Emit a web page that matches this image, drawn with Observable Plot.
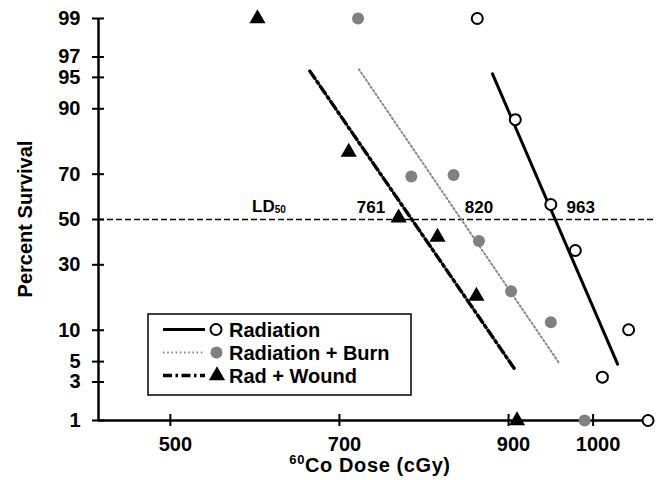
<!DOCTYPE html>
<html>
<head>
<meta charset="utf-8">
<script src="https://cdn.jsdelivr.net/npm/d3@7"></script>
<script src="https://cdn.jsdelivr.net/npm/@observablehq/plot@0.6"></script>
<style>
  html, body { margin: 0; padding: 0; background: white; }
  #chart svg { display: block; }
</style>
</head>
<body>
<div id="chart"></div>
<script>
// ---------------- data ----------------
const percentTicks = [1, 3, 5, 10, 30, 50, 70, 90, 95, 97, 99];
const doseTicks = [500, 700, 900, 1000];

const seriesNames = ["Radiation", "Radiation + Burn", "Rad + Wound"];

// observed points (dose cGy, percent survival)
const radDose = [863, 908, 950, 979, 1042, 1011, 1065];
const radSurv = [99, 87.6, 56.9, 36.0, 10.1, 3.4, 1];

const burnDose = [722, 785, 835, 865, 903, 950, 990];
const burnSurv = [99, 69.1, 69.7, 40.2, 20.3, 11.7, 1];

const woundDose = [603, 711, 770, 816, 862, 910];
const woundSurv = [99, 78.2, 50.8, 41.9, 18.8, 1];

// fitted probit lines (end points: dose, percent)
const radLineDose = [881, 1029];
const radLinePct = [95.4, 4.7];
const burnLineDose = [723, 960];
const burnLinePct = [95.9, 4.8];
const woundLineDose = [665, 907];
const woundLinePct = [95.7, 4.2];

// LD50 values
const ld50Values = [761, 820, 963];

// ---------------- helpers ----------------
function probit(p) {
  const a = [-3.969683028665376e+01, 2.209460984245205e+02, -2.759285104469687e+02, 1.383577518672690e+02, -3.066479806614716e+01, 2.506628277459239e+00];
  const b = [-5.447609879822406e+01, 1.615858368580409e+02, -1.556989798598866e+02, 6.680131188771972e+01, -1.328068155288572e+01];
  const c = [-7.784894002430293e-03, -3.223964580411365e-01, -2.400758277161838e+00, -2.549732539343734e+00, 4.374664141464968e+00, 2.938163982698783e+00];
  const d = [7.784695709041462e-03, 3.224671290700398e-01, 2.445134137142996e+00, 3.754408661907416e+00];
  const pl = 0.02425, ph = 1 - pl;
  let q, r;
  if (p < pl) {
    q = Math.sqrt(-2 * Math.log(p));
    return (((((c[0]*q+c[1])*q+c[2])*q+c[3])*q+c[4])*q+c[5]) / ((((d[0]*q+d[1])*q+d[2])*q+d[3])*q+1);
  }
  if (p > ph) {
    q = Math.sqrt(-2 * Math.log(1 - p));
    return -(((((c[0]*q+c[1])*q+c[2])*q+c[3])*q+c[4])*q+c[5]) / ((((d[0]*q+d[1])*q+d[2])*q+d[3])*q+1);
  }
  q = p - 0.5; r = q * q;
  return (((((a[0]*r+a[1])*r+a[2])*r+a[3])*r+a[4])*r+a[5])*q / (((((b[0]*r+b[1])*r+b[2])*r+b[3])*r+b[4])*r+1);
}
const pz = pct => probit(pct / 100);

const toRows = (doses, pcts) => doses.map((d, i) => ({dose: d, z: pz(pcts[i])}));
const rad = toRows(radDose, radSurv);
const burn = toRows(burnDose, burnSurv);
const wound = toRows(woundDose, woundSurv);
const radLine = toRows(radLineDose, radLinePct);
const burnLine = toRows(burnLineDose, burnLinePct);
const woundLine = toRows(woundLineDose, woundLinePct);

const yTickZ = percentTicks.map(pz);
const zLabel = new Map(percentTicks.map(p => [pz(p), String(p)]));
const xMin = 415, xMax = 1075;
const maxDose = d3.max([...radDose, ...burnDose, ...woundDose]);
const z50 = pz(50), z1 = pz(1), z99 = pz(99);

// ---------------- styles ----------------
const FONT = "'Liberation Sans', Arial, Helvetica, sans-serif";
const ldDx = [-20, 38, 19];
const dashDot = "9,3.5,2.5,3.5";
const dotted = "1.6,2.6";

const ldMarks = ld50Values.map((v, i) =>
  Plot.text([v], {x: d => d, y: () => z50, text: d => String(d), dx: ldDx[i], dy: -12,
    fontSize: 17, fontWeight: "bold", fill: "black"})
);

const chart = Plot.plot({
  width: 656,
  height: 480,
  marginLeft: 98,
  marginRight: 0,
  marginTop: 18,
  marginBottom: 60,
  style: {fontFamily: FONT, fontWeight: "bold", background: "white", color: "black"},
  x: {type: "linear", domain: [xMin, xMax], axis: null},
  y: {type: "linear", domain: [z1, z99], axis: null},
  marks: [
    // 50% reference line
    Plot.ruleY([z50], {stroke: "black", strokeWidth: 1.5, strokeDasharray: "6,3"}),
    // axis lines
    Plot.ruleX([xMin], {stroke: "black", strokeWidth: 2.5}),
    Plot.ruleY([z1], {x1: xMin, x2: maxDose, stroke: "black", strokeWidth: 2.5}),
    // axes ticks/labels
    Plot.axisY({ticks: yTickZ, tickSize: 12, dx: 6, tickPadding: 12, strokeWidth: 2,
      tickFormat: z => zLabel.get(z), fontSize: 20, fontWeight: "bold", label: null}),
    Plot.axisX({ticks: doseTicks, tickSize: 12, dy: -6, strokeWidth: 2,
      tickFormat: () => "", label: null}),
    Plot.axisX({ticks: doseTicks, tickSize: 0, tickPadding: 16, dx: 5,
      tickFormat: d => String(d), fontSize: 20, fontWeight: "bold", label: null}),
    // fitted lines
    Plot.line(woundLine, {x: "dose", y: "z", stroke: "black", strokeWidth: 3.4, strokeDasharray: dashDot}),
    Plot.line(burnLine, {x: "dose", y: "z", stroke: "#8a8a8a", strokeWidth: 2, strokeDasharray: dotted}),
    Plot.line(radLine, {x: "dose", y: "z", stroke: "black", strokeWidth: 3}),
    // points
    Plot.dot(wound, {x: "dose", y: "z", symbol: "triangle", r: 6, fill: "black", stroke: "none"}),
    Plot.dot(burn, {x: "dose", y: "z", r: 6, fill: "#808080", stroke: "none"}),
    Plot.dot(rad, {x: "dose", y: "z", r: 5.5, fill: "white", stroke: "black", strokeWidth: 2}),
    // LD50 value labels
    ...ldMarks
  ]
});

document.getElementById("chart").appendChild(chart);

// ---------------- annotations (titles, LD50 label, legend) ----------------
const svg = d3.select(chart);

// LD50 label
const ld = svg.append("text")
  .attr("x", 252).attr("y", 212).attr("text-anchor", "start")
  .attr("font-family", FONT).attr("font-weight", "bold").attr("font-size", 17).attr("fill", "black");
ld.append("tspan").text("LD");
ld.append("tspan").attr("font-size", 10).attr("dy", 1).text("50");

// X title
const xt = svg.append("text")
  .attr("x", 370).attr("y", 472).attr("text-anchor", "middle")
  .attr("font-family", FONT).attr("font-weight", "bold").attr("font-size", 20)
  .attr("letter-spacing", 0.6).attr("fill", "black");
xt.append("tspan").attr("font-size", 13).attr("dy", -8).text("60");
xt.append("tspan").attr("dy", 8).text("Co Dose (cGy)");

// Y title
svg.append("text")
  .attr("transform", "translate(32,219) rotate(-90)")
  .attr("text-anchor", "middle")
  .attr("font-family", FONT).attr("font-weight", "bold").attr("font-size", 20).attr("fill", "black")
  .text("Percent Survival");

// Legend
const lg = svg.append("g");
lg.append("rect").attr("x", 148).attr("y", 314).attr("width", 263).attr("height", 81)
  .attr("fill", "white").attr("stroke", "black").attr("stroke-width", 1.5);
const rowY = [329.5, 352.5, 375.5];
const lineStyles = [
  {stroke: "black", width: 3, dash: null},
  {stroke: "#8a8a8a", width: 2, dash: dotted},
  {stroke: "black", width: 3.4, dash: dashDot}
];
seriesNames.forEach((name, i) => {
  const y = rowY[i];
  const s = lineStyles[i];
  const l = lg.append("line").attr("x1", 163).attr("x2", 205).attr("y1", y).attr("y2", y)
    .attr("stroke", s.stroke).attr("stroke-width", s.width);
  if (s.dash) l.attr("stroke-dasharray", s.dash);
  if (i === 0) {
    lg.append("circle").attr("cx", 216).attr("cy", y).attr("r", 5.5)
      .attr("fill", "white").attr("stroke", "black").attr("stroke-width", 2);
  } else if (i === 1) {
    lg.append("circle").attr("cx", 216.5).attr("cy", y).attr("r", 6).attr("fill", "#808080");
  } else {
    lg.append("path").attr("transform", `translate(217,${y})`)
      .attr("d", d3.symbol(d3.symbolTriangle, Math.PI * 36)()).attr("fill", "black");
  }
  lg.append("text").attr("x", 229).attr("y", y + 7).attr("text-anchor", "start")
    .attr("font-family", FONT).attr("font-weight", "bold").attr("font-size", 20).attr("fill", "black")
    .text(name);
});
</script>
</body>
</html>
